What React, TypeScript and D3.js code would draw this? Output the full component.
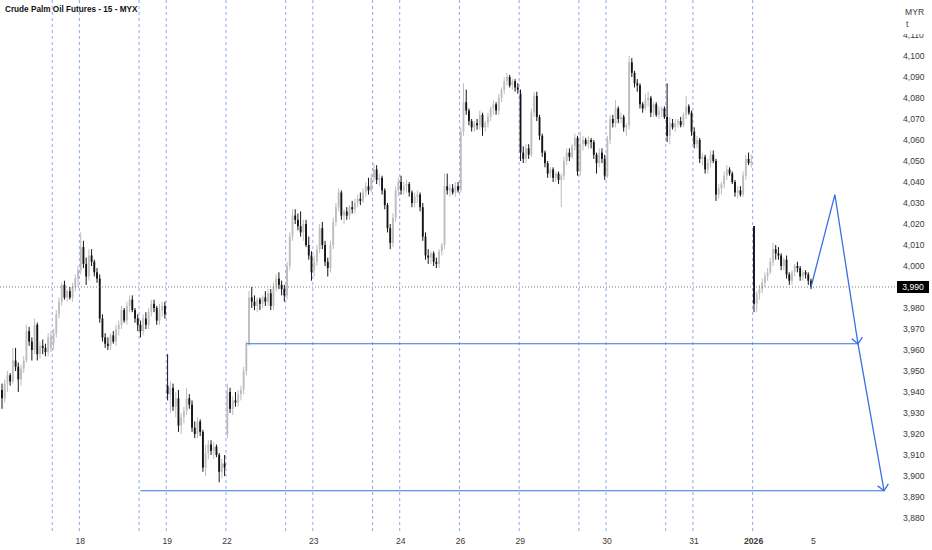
import * as React from 'react';
import * as d3 from 'd3';

// open, high, low, close for each 15 minute bar
type Bar = [number, number, number, number];

const dec17Pm: Bar[] = [
  [3941, 3944, 3932, 3937], [3937, 3946, 3935, 3944], [3944, 3950, 3940, 3948], [3948, 3949, 3943, 3945],
  [3945, 3961, 3944, 3955], [3955, 3961, 3950, 3952], [3952, 3954, 3940, 3946], [3946, 3953, 3943, 3951],
  [3951, 3957, 3949, 3955], [3955, 3972, 3954, 3969], [3969, 3971, 3962, 3964], [3964, 3966, 3955, 3960],
  [3960, 3975, 3958, 3972], [3972, 3973, 3955, 3958], [3958, 3964, 3956, 3962], [3962, 3965, 3958, 3961],
  [3961, 3963, 3957, 3959], [3959, 3968, 3957, 3966], [3961, 3969, 3959, 3967]
];
const dec18Night: Bar[] = [
  [3963, 3970, 3960, 3968], [3968, 3979, 3966, 3977], [3977, 3985, 3975, 3983], [3983, 3992, 3981, 3991],
  [3991, 3993, 3984, 3985], [3985, 3989, 3983, 3988], [3988, 3990, 3984, 3985], [3985, 3992, 3983, 3990],
  [3990, 3996, 3988, 3994], [3994, 4000, 3990, 3998]
];
const dec18Day: Bar[] = [
  [3998, 4016, 3996, 4009], [4009, 4012, 3999, 4001], [4001, 4004, 3991, 3995], [3995, 4008, 3993, 4005],
  [4005, 4008, 4000, 4002], [4002, 4003, 3995, 3997], [3997, 3999, 3992, 3994], [3994, 3996, 3973, 3975],
  [3975, 3977, 3964, 3966], [3966, 3968, 3961, 3963], [3963, 3966, 3960, 3962], [3962, 3968, 3960, 3967],
  [3967, 3969, 3963, 3964], [3964, 3972, 3962, 3970], [3970, 3974, 3967, 3972], [3972, 3981, 3970, 3979],
  [3979, 3980, 3973, 3974], [3974, 3983, 3972, 3981], [3981, 3986, 3978, 3984], [3984, 3986, 3978, 3979],
  [3979, 3980, 3973, 3975], [3975, 3977, 3969, 3972]
];
const dec19Night: Bar[] = [
  [3972, 3974, 3966, 3969], [3969, 3977, 3967, 3975], [3975, 3978, 3970, 3972], [3972, 3980, 3970, 3978],
  [3978, 3984, 3976, 3982], [3982, 3984, 3978, 3980], [3980, 3981, 3972, 3974], [3974, 3982, 3972, 3979],
  [3979, 3983, 3976, 3981], [3981, 3983, 3975, 3977]
];
const dec19Day: Bar[] = [
  [3943, 3958, 3936, 3939], [3939, 3945, 3930, 3942], [3942, 3944, 3931, 3933], [3933, 3940, 3928, 3937],
  [3937, 3941, 3921, 3924], [3924, 3930, 3920, 3928], [3928, 3933, 3925, 3931], [3931, 3942, 3929, 3937],
  [3937, 3939, 3932, 3934], [3934, 3936, 3921, 3923], [3923, 3926, 3918, 3920], [3920, 3928, 3918, 3926],
  [3926, 3927, 3919, 3921], [3921, 3922, 3902, 3904], [3904, 3915, 3900, 3911], [3911, 3917, 3908, 3915],
  [3915, 3917, 3910, 3912], [3912, 3916, 3908, 3914], [3914, 3915, 3909, 3910], [3910, 3911, 3897, 3902],
  [3902, 3908, 3899, 3906], [3906, 3910, 3900, 3904]
];
const dec22Day: Bar[] = [
  [3920, 3944, 3918, 3940], [3940, 3942, 3930, 3932], [3932, 3938, 3929, 3936], [3936, 3940, 3933, 3935],
  [3935, 3941, 3933, 3939], [3939, 3943, 3936, 3941], [3941, 3952, 3939, 3950], [3950, 3964, 3948, 3963],
  [3963, 3988, 3962, 3985], [3985, 3990, 3980, 3983], [3983, 3986, 3979, 3981], [3981, 3985, 3978, 3984],
  [3984, 3985, 3979, 3982], [3982, 3986, 3980, 3985], [3985, 3988, 3981, 3983], [3983, 3989, 3981, 3987],
  [3987, 3989, 3979, 3981], [3981, 3992, 3979, 3990], [3990, 3996, 3988, 3994], [3994, 3997, 3989, 3991],
  [3991, 3993, 3986, 3989], [3989, 3991, 3983, 3986]
];
const dec23Night: Bar[] = [
  [3986, 4002, 3984, 4000], [4000, 4016, 3998, 4014], [4014, 4027, 4012, 4024], [4024, 4027, 4020, 4022],
  [4022, 4025, 4017, 4019], [4019, 4026, 4014, 4016], [4016, 4022, 4012, 4020], [4020, 4022, 4009, 4010],
  [4010, 4014, 4003, 4005], [4005, 4007, 3993, 3997]
];
const dec23Day: Bar[] = [
  [3998, 4005, 3995, 4002], [4002, 4010, 4000, 4008], [4008, 4020, 4006, 4018], [4018, 4021, 4008, 4010],
  [4010, 4012, 4000, 4002], [4002, 4004, 3995, 3999], [3999, 4012, 3997, 4010], [4010, 4023, 4008, 4021],
  [4021, 4030, 4019, 4028], [4028, 4037, 4026, 4035], [4035, 4036, 4022, 4024], [4024, 4027, 4020, 4026],
  [4026, 4028, 4022, 4024], [4024, 4029, 4022, 4028], [4028, 4031, 4025, 4027], [4027, 4032, 4025, 4030],
  [4030, 4034, 4028, 4032], [4032, 4035, 4029, 4031], [4031, 4037, 4030, 4035], [4035, 4040, 4033, 4038],
  [4038, 4042, 4034, 4036], [4036, 4044, 4035, 4042]
];
const dec24Night: Bar[] = [
  [4042, 4049, 4040, 4046], [4046, 4048, 4039, 4041], [4041, 4044, 4038, 4042], [4042, 4043, 4034, 4036],
  [4036, 4037, 4027, 4029], [4029, 4030, 4016, 4018], [4018, 4020, 4008, 4011], [4011, 4025, 4009, 4023],
  [4023, 4038, 4021, 4036], [4036, 4042, 4033, 4040]
];
const dec24Day: Bar[] = [
  [4040, 4043, 4034, 4036], [4036, 4040, 4034, 4038], [4038, 4041, 4035, 4039], [4039, 4040, 4033, 4035],
  [4035, 4036, 4028, 4030], [4030, 4035, 4028, 4033], [4033, 4036, 4030, 4034], [4034, 4035, 4026, 4028],
  [4028, 4030, 4012, 4014], [4014, 4016, 4003, 4005], [4005, 4008, 4001, 4004], [4004, 4007, 4001, 4006],
  [4006, 4007, 4000, 4002], [4002, 4004, 3999, 4001], [4001, 4008, 3999, 4007], [4007, 4011, 4005, 4010],
  [4010, 4044, 4008, 4038], [4038, 4044, 4034, 4036], [4036, 4039, 4033, 4037], [4037, 4039, 4034, 4035],
  [4035, 4040, 4033, 4038], [4038, 4040, 4035, 4036]
];
const dec26Day: Bar[] = [
  [4036, 4066, 4035, 4064], [4064, 4087, 4062, 4078], [4078, 4084, 4072, 4074], [4074, 4075, 4067, 4069],
  [4069, 4070, 4064, 4066], [4066, 4069, 4064, 4068], [4068, 4070, 4065, 4067], [4067, 4074, 4065, 4072],
  [4072, 4073, 4062, 4066], [4066, 4069, 4064, 4068], [4068, 4073, 4066, 4071], [4071, 4076, 4069, 4075],
  [4075, 4079, 4072, 4077], [4077, 4078, 4072, 4074], [4074, 4082, 4072, 4080], [4080, 4085, 4078, 4084],
  [4084, 4090, 4082, 4088], [4088, 4092, 4086, 4090], [4090, 4091, 4085, 4086], [4086, 4089, 4084, 4088],
  [4088, 4089, 4083, 4085], [4085, 4087, 4082, 4084]
];
const dec29Day: Bar[] = [
  [4082, 4084, 4050, 4054], [4054, 4057, 4049, 4051], [4051, 4058, 4049, 4056], [4056, 4058, 4051, 4053],
  [4053, 4075, 4052, 4073], [4073, 4083, 4071, 4081], [4081, 4083, 4069, 4071], [4071, 4072, 4060, 4062],
  [4062, 4063, 4052, 4054], [4054, 4055, 4047, 4049], [4049, 4050, 4042, 4044], [4044, 4047, 4042, 4046],
  [4046, 4047, 4040, 4042], [4042, 4045, 4040, 4044], [4044, 4045, 4039, 4041], [4041, 4044, 4028, 4043],
  [4043, 4052, 4041, 4050], [4050, 4056, 4048, 4054], [4054, 4056, 4050, 4052], [4052, 4058, 4051, 4057],
  [4057, 4063, 4055, 4061], [4061, 4062, 4043, 4045]
];
const dec30Night: Bar[] = [
  [4045, 4064, 4043, 4058], [4058, 4062, 4055, 4060], [4060, 4061, 4057, 4058], [4058, 4062, 4056, 4060],
  [4060, 4061, 4056, 4059], [4059, 4060, 4051, 4053], [4053, 4054, 4044, 4049], [4049, 4056, 4047, 4054],
  [4054, 4056, 4049, 4051], [4051, 4053, 4041, 4043]
];
const dec30Day: Bar[] = [
  [4043, 4062, 4042, 4060], [4060, 4072, 4058, 4070], [4070, 4072, 4066, 4068], [4068, 4079, 4066, 4075],
  [4075, 4076, 4068, 4070], [4070, 4073, 4068, 4071], [4071, 4072, 4064, 4066], [4066, 4068, 4062, 4067],
  [4067, 4100, 4065, 4097], [4097, 4099, 4090, 4092], [4092, 4093, 4085, 4087], [4087, 4089, 4083, 4086],
  [4086, 4087, 4075, 4077], [4077, 4078, 4073, 4075], [4075, 4082, 4074, 4079], [4079, 4083, 4076, 4080],
  [4080, 4081, 4071, 4073], [4073, 4078, 4071, 4077], [4077, 4078, 4071, 4072], [4072, 4076, 4070, 4074],
  [4074, 4076, 4071, 4075], [4075, 4076, 4070, 4071]
];
const dec31Night: Bar[] = [
  [4071, 4087, 4059, 4062], [4062, 4071, 4058, 4068], [4068, 4070, 4065, 4066], [4066, 4070, 4064, 4068],
  [4068, 4070, 4066, 4069], [4069, 4071, 4066, 4067], [4067, 4073, 4066, 4072], [4072, 4081, 4070, 4076],
  [4076, 4077, 4072, 4073], [4073, 4074, 4062, 4064]
];
const dec31Day: Bar[] = [
  [4064, 4066, 4056, 4058], [4058, 4062, 4056, 4060], [4060, 4061, 4049, 4051], [4051, 4054, 4048, 4052],
  [4052, 4053, 4044, 4046], [4046, 4051, 4044, 4049], [4049, 4055, 4047, 4053], [4053, 4055, 4049, 4050],
  [4050, 4051, 4031, 4034], [4034, 4039, 4032, 4037], [4037, 4040, 4034, 4039], [4039, 4045, 4037, 4043],
  [4043, 4048, 4041, 4046], [4046, 4047, 4043, 4044], [4044, 4045, 4039, 4040], [4040, 4041, 4033, 4035],
  [4035, 4038, 4032, 4036], [4036, 4038, 4033, 4034], [4034, 4045, 4033, 4043], [4043, 4053, 4041, 4051],
  [4051, 4054, 4048, 4049], [4049, 4053, 4047, 4050]
];
const jan2Day: Bar[] = [
  [4019, 4019, 3978, 3982], [3982, 3988, 3978, 3987], [3987, 3991, 3984, 3989], [3989, 3994, 3987, 3992],
  [3992, 3997, 3990, 3995], [3995, 3999, 3993, 3997], [3997, 4004, 3996, 4002], [4002, 4011, 4000, 4008],
  [4008, 4010, 4003, 4006], [4006, 4009, 4003, 4005], [4005, 4006, 3998, 4000], [4000, 4004, 3998, 4003],
  [4003, 4005, 3994, 3996], [3996, 3997, 3991, 3993], [3993, 3998, 3991, 3997], [3997, 4001, 3995, 4000],
  [4000, 4002, 3997, 3999], [3999, 4000, 3993, 3995], [3995, 3998, 3993, 3997], [3997, 3998, 3994, 3996],
  [3996, 3997, 3991, 3993], [3993, 3994, 3989, 3990]
];

const sessions = [
  { bars: dec17Pm, line: false, label: '' },
  { bars: dec18Night, line: true, label: '' },
  { bars: dec18Day, line: true, label: '18' },
  { bars: dec19Night, line: true, label: '' },
  { bars: dec19Day, line: true, label: '19' },
  { bars: dec22Day, line: true, label: '22' },
  { bars: dec23Night, line: true, label: '' },
  { bars: dec23Day, line: true, label: '23' },
  { bars: dec24Night, line: true, label: '' },
  { bars: dec24Day, line: true, label: '24' },
  { bars: dec26Day, line: true, label: '26' },
  { bars: dec29Day, line: true, label: '29' },
  { bars: dec30Night, line: true, label: '' },
  { bars: dec30Day, line: true, label: '30' },
  { bars: dec31Night, line: true, label: '' },
  { bars: dec31Day, line: true, label: '31' },
  { bars: jan2Day, line: true, label: '2026' }
];
const nextSessionLabel = '5';
const yearLabel = '2026';

const priceTicks = [
  3880, 3890, 3900, 3910, 3920, 3930, 3940, 3950, 3960, 3970, 3980, 3990,
  4000, 4010, 4020, 4030, 4040, 4050, 4060, 4070, 4080, 4090, 4100, 4110
];
const lastPrice = 3990;

// drawn levels: price, from bar, to bar
const levels = [
  { price: 3963, from: 90, to: 315.3 },
  { price: 3893, from: 51, to: 324.9 }
];
// projected path: bar index, price
const projection: [number, number][] = [
  [298, 3990],
  [306.8, 4034],
  [315.3, 3963],
  [324.9, 3893]
];

const W = 932;
const H = 550;
const BLUE = '#3b6fe6';
const fmt = d3.format(',');

export default function App() {
  const bars = useBars();
  const n = bars.length;
  const x = d3.scaleLinear().domain([0, n - 1]).range([2, 811]);
  const step = x(1) - x(0);
  const y = d3.scaleLinear().domain([3880, 4110]).range([518, 35]);
  const bw = step * 0.68;

  const starts: { idx: number; line: boolean; label: string }[] = [];
  let acc = 0;
  sessions.forEach(s => {
    starts.push({ idx: acc, line: s.line, label: s.label });
    acc += s.bars.length;
  });
  starts.push({ idx: acc, line: false, label: nextSessionLabel });

  const path = d3.line<[number, number]>().x(d => x(d[0])).y(d => y(d[1]))(projection) || '';

  const arrow = (from: [number, number], to: [number, number]) => {
    const x0 = x(from[0]), y0 = y(from[1]), x1 = x(to[0]), y1 = y(to[1]);
    const a = Math.atan2(y1 - y0, x1 - x0);
    const len = 8;
    const th = Math.PI / 4.2;
    const p1 = [x1 - len * Math.cos(a - th), y1 - len * Math.sin(a - th)];
    const p2 = [x1 - len * Math.cos(a + th), y1 - len * Math.sin(a + th)];
    return `M${p1[0]},${p1[1]}L${x1},${y1}L${p2[0]},${p2[1]}`;
  };

  return (
    <div style={{ position: 'absolute', left: 0, top: 0 }}>
      <svg width={W} height={H} style={{ display: 'block', background: '#fff' }} fontFamily="'Liberation Sans', Arial, sans-serif">
        {/* session separators */}
        {starts.filter(s => s.line).map(s => (
          <line key={'v' + s.idx} x1={x(s.idx) - step / 2} x2={x(s.idx) - step / 2} y1={0} y2={531}
            stroke="#8eaae8" strokeWidth={1} strokeDasharray="3 3" />
        ))}

        {/* candles */}
        {bars.map((b, i) => {
          const [o, h, l, c] = b;
          const up = c >= o;
          const col = up ? '#bdbdbd' : '#141414';
          const cx = x(i);
          const top = y(Math.max(o, c));
          const hgt = Math.max(1, Math.abs(y(o) - y(c)));
          return (
            <g key={i}>
              <line x1={cx} x2={cx} y1={y(h)} y2={y(l)} stroke={col} strokeWidth={1} />
              <rect x={cx - bw / 2} y={top} width={bw} height={hgt} fill={col} />
            </g>
          );
        })}

        {/* last price line */}
        <line x1={0} x2={897} y1={y(lastPrice)} y2={y(lastPrice)} stroke="#555" strokeWidth={0.8} strokeDasharray="1 2" />

        {/* levels */}
        {levels.map((lv, i) => (
          <line key={'l' + i} x1={x(lv.from)} x2={x(lv.to)} y1={y(lv.price)} y2={y(lv.price)} stroke={BLUE} strokeWidth={1.1} />
        ))}

        {/* projection */}
        <path d={path} fill="none" stroke={BLUE} strokeWidth={1.3} />
        <path d={arrow(projection[1], projection[2])} fill="none" stroke={BLUE} strokeWidth={1.3} />
        <path d={arrow(projection[2], projection[3])} fill="none" stroke={BLUE} strokeWidth={1.3} />

        {/* price axis */}
        {priceTicks.map(t => (
          <text key={t} x={903} y={y(t) + 3} fontSize={8.6} fill="#3a3a3a">{fmt(t)}</text>
        ))}
        <rect x={890} y={0} width={42} height={34} fill="#fff" />
        <text x={905} y={15} fontSize={8.6} fill="#3a3a3a">MYR</text>
        <text x={906} y={27} fontSize={8.6} fill="#3a3a3a">t</text>
        <rect x={897} y={y(lastPrice) - 6} width={32} height={12} fill="#000" />
        <text x={913} y={y(lastPrice) + 3} fontSize={8.6} fill="#fff" textAnchor="middle">{fmt(lastPrice)}</text>

        {/* time axis */}
        {starts.filter(s => s.label).map(s => (
          <text key={'t' + s.idx} x={x(s.idx) - step / 2 + 1} y={544} fontSize={8.6} textAnchor="middle"
            fill="#3a3a3a" fontWeight={s.label === yearLabel ? 'bold' : 'normal'}>{s.label}</text>
        ))}

        {/* title */}
        <text x={5} y={12} fontSize={8.2} fontWeight="bold" fill="#111">Crude Palm Oil Futures - 15 - MYX</text>
      </svg>
    </div>
  );
}

function useBars(): Bar[] {
  return React.useMemo(() => sessions.flatMap(s => s.bars), []);
}
